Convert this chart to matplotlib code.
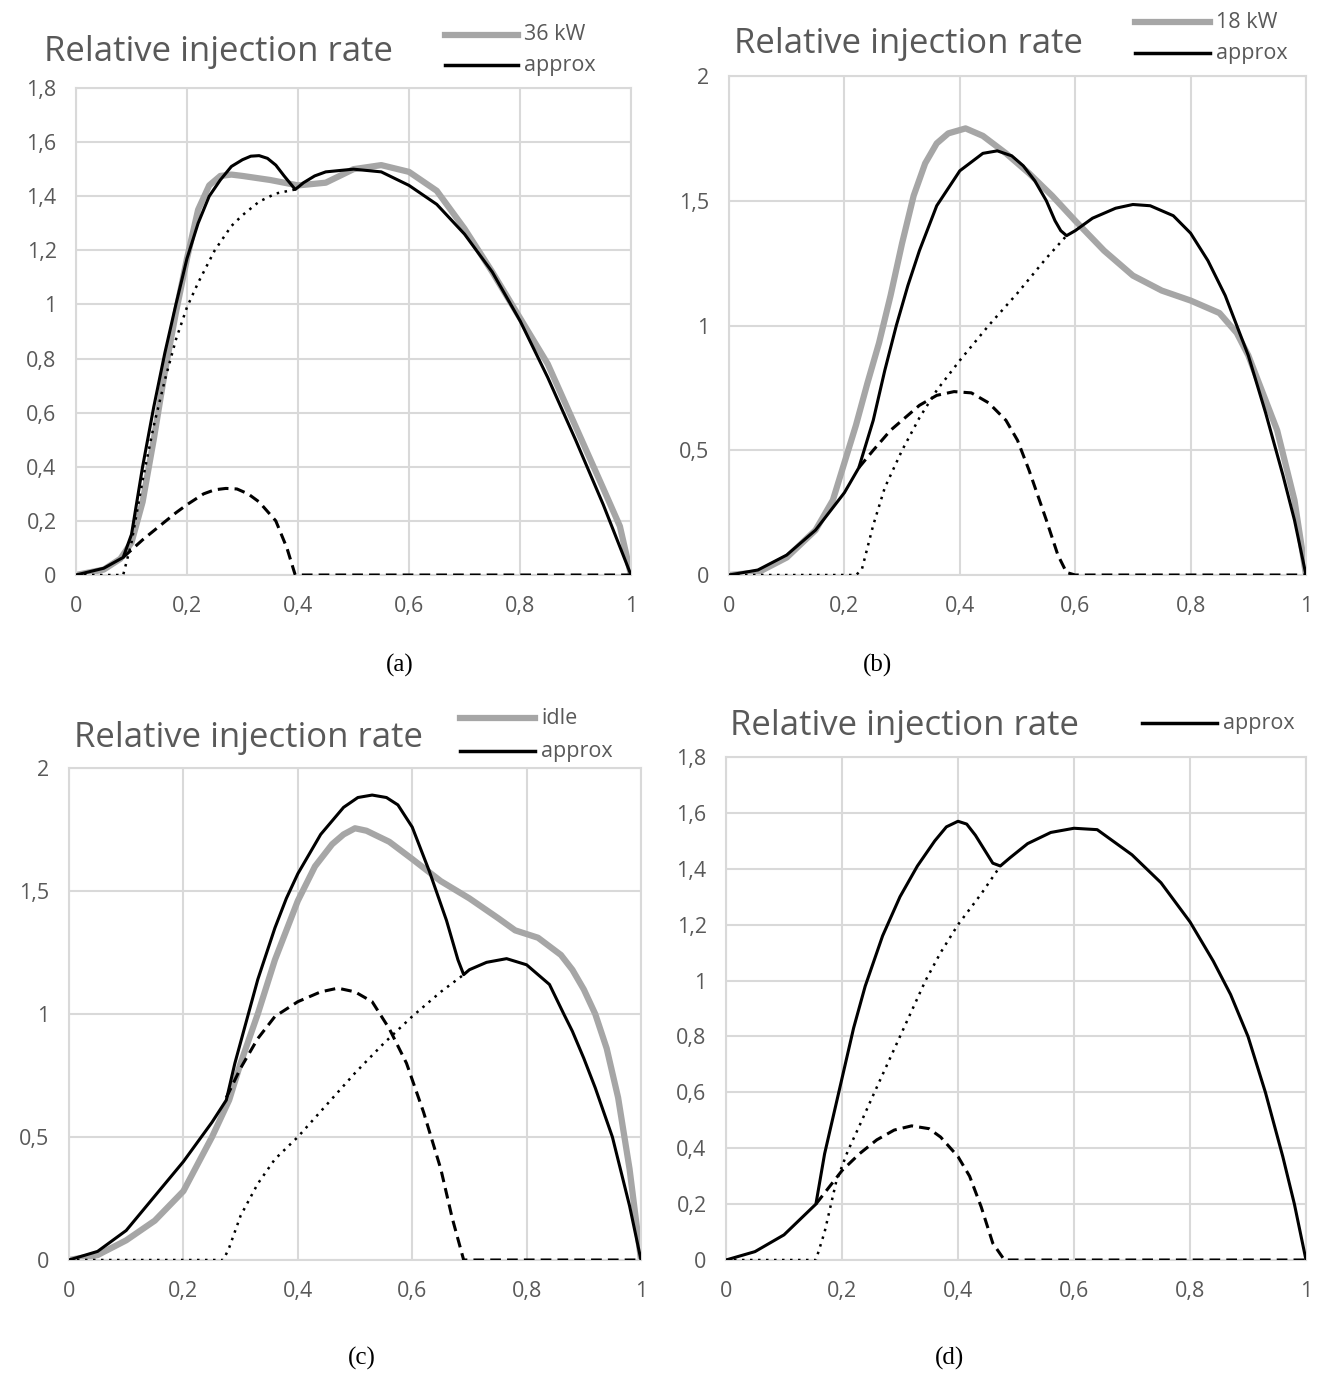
import matplotlib.pyplot as plt
from matplotlib.lines import Line2D

plt.rcParams['font.family'] = ['Open Sans', 'DejaVu Sans']

W, H = 1326, 1383
GRAY_TXT = '#595959'
GRID = '#d9d9d9'
MEAS = '#a6a6a6'

# tick labels
x_ticks = [0, 0.2, 0.4, 0.6, 0.8, 1.0]
x_labels = ['0', '0,2', '0,4', '0,6', '0,8', '1']
y_ticks_18 = [0, 0.2, 0.4, 0.6, 0.8, 1.0, 1.2, 1.4, 1.6, 1.8]
y_labels_18 = ['0', '0,2', '0,4', '0,6', '0,8', '1', '1,2', '1,4', '1,6', '1,8']
y_ticks_2 = [0, 0.5, 1.0, 1.5, 2.0]
y_labels_2 = ['0', '0,5', '1', '1,5', '2']

# (a) 36 kW
a_meas_x = [0, 0.05, 0.08, 0.1, 0.12, 0.14, 0.16, 0.18, 0.2, 0.22, 0.24, 0.26, 0.28, 0.3, 0.35, 0.4,
            0.45, 0.5, 0.55, 0.6, 0.65, 0.7, 0.75, 0.8, 0.85, 0.9, 0.95, 0.98, 1.0]
a_meas_y = [0, 0.02, 0.06, 0.12, 0.27, 0.5, 0.75, 0.97, 1.17, 1.35, 1.44, 1.475, 1.48, 1.475, 1.46, 1.44,
            1.45, 1.5, 1.515, 1.49, 1.42, 1.28, 1.12, 0.95, 0.78, 0.55, 0.32, 0.18, 0]
a_appr_x = [0, 0.05, 0.085, 0.1, 0.12, 0.14, 0.16, 0.18, 0.2, 0.22, 0.24, 0.26, 0.28, 0.3, 0.315, 0.33,
            0.345, 0.36, 0.375, 0.395, 0.41, 0.43, 0.45, 0.5, 0.55, 0.6, 0.65, 0.7, 0.75, 0.8, 0.85,
            0.9, 0.95, 1.0]
a_appr_y = [0, 0.025, 0.065, 0.15, 0.4, 0.62, 0.82, 1.0, 1.17, 1.3, 1.4, 1.46, 1.51, 1.535, 1.548, 1.55,
            1.54, 1.515, 1.475, 1.425, 1.45, 1.475, 1.49, 1.5, 1.49, 1.44, 1.37, 1.26, 1.12, 0.94, 0.73,
            0.5, 0.26, 0]
a_main_x = [0, 0.085, 0.1, 0.12, 0.14, 0.16, 0.18, 0.2, 0.22, 0.25, 0.28, 0.3, 0.33, 0.36, 0.395]
a_main_y = [0, 0, 0.12, 0.35, 0.55, 0.72, 0.87, 0.99, 1.08, 1.2, 1.29, 1.33, 1.38, 1.41, 1.425]
a_pilot_x = [0.085, 0.12, 0.15, 0.18, 0.2, 0.23, 0.25, 0.27, 0.29, 0.31, 0.33, 0.36, 0.38, 0.395, 1.0]
a_pilot_y = [0.065, 0.13, 0.18, 0.23, 0.26, 0.3, 0.315, 0.32, 0.318, 0.3, 0.27, 0.2, 0.1, 0.0, 0.0]

# (b) 18 kW
b_meas_x = [0, 0.05, 0.1, 0.15, 0.18, 0.2, 0.22, 0.24, 0.26, 0.28, 0.3, 0.32, 0.34, 0.36, 0.38, 0.41,
            0.44, 0.48, 0.52, 0.56, 0.6, 0.65, 0.7, 0.75, 0.8, 0.85, 0.88, 0.9, 0.93, 0.95, 0.98, 1.0]
b_meas_y = [0, 0.01, 0.07, 0.18, 0.3, 0.45, 0.6, 0.77, 0.93, 1.12, 1.33, 1.52, 1.65, 1.73, 1.77, 1.79,
            1.76, 1.69, 1.61, 1.52, 1.42, 1.3, 1.2, 1.14, 1.1, 1.05, 0.97, 0.88, 0.7, 0.58, 0.3, 0]
b_appr_x = [0, 0.05, 0.1, 0.15, 0.2, 0.225, 0.25, 0.27, 0.29, 0.31, 0.33, 0.36, 0.4, 0.44, 0.465,
            0.49, 0.51, 0.53, 0.55, 0.565, 0.575, 0.585, 0.6, 0.63, 0.67, 0.7, 0.73, 0.77, 0.8, 0.83,
            0.86, 0.9, 0.93, 0.96, 0.98, 1.0]
b_appr_y = [0, 0.02, 0.08, 0.18, 0.33, 0.43, 0.62, 0.82, 1.0, 1.16, 1.3, 1.48, 1.62, 1.69, 1.7,
            1.68, 1.64, 1.58, 1.5, 1.42, 1.38, 1.36, 1.38, 1.43, 1.47, 1.485, 1.48, 1.44, 1.37, 1.26,
            1.12, 0.88, 0.65, 0.4, 0.22, 0]
b_main_x = [0, 0.22, 0.23, 0.25, 0.27, 0.3, 0.33, 0.36, 0.4, 0.45, 0.5, 0.55, 0.585]
b_main_y = [0, 0, 0.02, 0.2, 0.35, 0.5, 0.63, 0.74, 0.86, 1.0, 1.13, 1.27, 1.36]
b_pilot_x = [0.225, 0.25, 0.28, 0.3, 0.33, 0.36, 0.39, 0.42, 0.45, 0.48, 0.5, 0.52, 0.55, 0.57, 0.585, 0.6, 1.0]
b_pilot_y = [0.43, 0.5, 0.58, 0.62, 0.68, 0.72, 0.735, 0.73, 0.69, 0.62, 0.54, 0.42, 0.22, 0.08, 0.01, 0.0, 0.0]

# (c) idle
c_meas_x = [0, 0.05, 0.1, 0.15, 0.2, 0.25, 0.28, 0.3, 0.33, 0.36, 0.4, 0.43, 0.46, 0.48, 0.5, 0.52, 0.56,
            0.6, 0.65, 0.7, 0.75, 0.78, 0.82, 0.86, 0.88, 0.9, 0.92, 0.94, 0.96, 0.98, 1.0]
c_meas_y = [0, 0.02, 0.08, 0.16, 0.28, 0.5, 0.65, 0.8, 1.0, 1.22, 1.46, 1.6, 1.69, 1.73, 1.755, 1.745, 1.7,
            1.63, 1.54, 1.47, 1.39, 1.34, 1.31, 1.24, 1.18, 1.1, 1.0, 0.86, 0.66, 0.37, 0]
c_appr_x = [0, 0.05, 0.1, 0.15, 0.2, 0.225, 0.25, 0.275, 0.29, 0.31, 0.33, 0.36, 0.38, 0.4, 0.44,
            0.48, 0.505, 0.53, 0.555, 0.575, 0.6, 0.63, 0.66, 0.68, 0.69, 0.7, 0.73, 0.765, 0.8, 0.84,
            0.865, 0.88, 0.9, 0.92, 0.95, 0.98, 1.0]
c_appr_y = [0, 0.035, 0.12, 0.26, 0.4, 0.48, 0.56, 0.65, 0.8, 0.97, 1.14, 1.35, 1.47, 1.57, 1.73,
            1.84, 1.88, 1.89, 1.88, 1.85, 1.76, 1.58, 1.38, 1.22, 1.16, 1.18, 1.21, 1.225, 1.2, 1.12,
            1.0, 0.93, 0.82, 0.7, 0.5, 0.22, 0]
c_main_x = [0, 0.27, 0.28, 0.3, 0.33, 0.36, 0.4, 0.45, 0.5, 0.55, 0.6, 0.65, 0.69]
c_main_y = [0, 0, 0.05, 0.18, 0.31, 0.41, 0.5, 0.63, 0.76, 0.88, 0.99, 1.09, 1.16]
c_pilot_x = [0.275, 0.3, 0.33, 0.36, 0.4, 0.44, 0.47, 0.5, 0.53, 0.56, 0.59, 0.62, 0.65, 0.67, 0.69, 1.0]
c_pilot_y = [0.66, 0.78, 0.9, 0.99, 1.05, 1.09, 1.105, 1.09, 1.05, 0.94, 0.8, 0.6, 0.37, 0.17, 0.0, 0.0]

# (d) approx only
d_appr_x = [0, 0.05, 0.1, 0.155, 0.17, 0.2, 0.22, 0.24, 0.27, 0.3, 0.33, 0.36, 0.38, 0.4, 0.415,
            0.43, 0.445, 0.46, 0.473, 0.49, 0.52, 0.56, 0.6, 0.64, 0.7, 0.75, 0.8, 0.84, 0.87, 0.9,
            0.93, 0.96, 0.98, 1.0]
d_appr_y = [0, 0.03, 0.09, 0.2, 0.38, 0.65, 0.83, 0.98, 1.16, 1.3, 1.41, 1.5, 1.55, 1.57, 1.56,
            1.52, 1.47, 1.42, 1.41, 1.44, 1.49, 1.53, 1.545, 1.54, 1.45, 1.35, 1.21, 1.07, 0.95, 0.8,
            0.6, 0.37, 0.2, 0]
d_main_x = [0, 0.155, 0.17, 0.19, 0.21, 0.23, 0.256, 0.3, 0.344, 0.37, 0.4, 0.44, 0.473]
d_main_y = [0, 0, 0.1, 0.28, 0.39, 0.48, 0.6, 0.8, 1.0, 1.1, 1.2, 1.31, 1.41]
d_pilot_x = [0.155, 0.17, 0.2, 0.23, 0.26, 0.29, 0.32, 0.35, 0.37, 0.4, 0.42, 0.44, 0.46, 0.48, 1.0]
d_pilot_y = [0.2, 0.24, 0.32, 0.38, 0.43, 0.465, 0.48, 0.47, 0.44, 0.37, 0.3, 0.19, 0.06, 0.0, 0.0]


def fx(px):
    return px / W


def fy(py):
    return 1 - py / H


fig = plt.figure(figsize=(W / 100, H / 100), dpi=100)


def panel(box, yticks, ylabels, ymax, meas, appr, main, pilot, title_xy, leg, cap):
    l, r, t, b = box
    ax = fig.add_axes([fx(l), fy(b), fx(r) - fx(l), fy(t) - fy(b)])
    ax.set_xlim(0, 1)
    ax.set_ylim(0, ymax)
    ax.set_xticks(x_ticks)
    ax.set_xticklabels(x_labels)
    ax.set_yticks(yticks)
    ax.set_yticklabels(ylabels)
    ax.tick_params(length=0, labelsize=15.5, colors=GRAY_TXT)
    ax.tick_params(axis='y', pad=14)
    ax.tick_params(axis='x', pad=15)
    ax.grid(True, color=GRID, lw=1.5)
    for s in ax.spines.values():
        s.set_color(GRID)
        s.set_linewidth(1.5)
    ax.set_axisbelow(True)
    if meas is not None:
        ax.plot(meas[0], meas[1], color=MEAS, lw=4.5, solid_capstyle='round', zorder=2)
    ax.plot(main[0], main[1], color='black', lw=1.8, linestyle=(0, (1, 2.2)), zorder=3)
    ax.plot(pilot[0], pilot[1], color='black', lw=2.2, linestyle=(0, (3.5, 2)), zorder=3)
    ax.plot(appr[0], appr[1], color='black', lw=2.2, zorder=4)

    fig.text(fx(title_xy[0]), fy(title_xy[1]), 'Relative injection rate', fontsize=25,
             color=GRAY_TXT, va='center', ha='left')
    lx0, lx1 = leg[0], leg[1]
    for (label, py, col, lw) in leg[2]:
        fig.add_artist(Line2D([fx(lx0), fx(lx1)], [fy(py), fy(py)], color=col, lw=lw,
                              transform=fig.transFigure))
        fig.text(fx(lx1 + 6), fy(py), label, fontsize=15.5, color=GRAY_TXT, va='center', ha='left')
    fig.text(fx(cap[0]), fy(cap[1]), cap[2], fontsize=18, family='Liberation Serif',
             ha='center', va='center')
    return ax


panel((76, 631, 88, 575), y_ticks_18, y_labels_18, 1.8,
      (a_meas_x, a_meas_y), (a_appr_x, a_appr_y), (a_main_x, a_main_y), (a_pilot_x, a_pilot_y),
      (44, 52), (445, 518, [('36 kW', 35, MEAS, 4.5), ('approx', 65, 'black', 2.5)]),
      (400, 665, '(a)'))
panel((729, 1306, 76, 575), y_ticks_2, y_labels_2, 2.0,
      (b_meas_x, b_meas_y), (b_appr_x, b_appr_y), (b_main_x, b_main_y), (b_pilot_x, b_pilot_y),
      (734, 44), (1135, 1210, [('18 kW', 22, MEAS, 4.5), ('approx', 53, 'black', 2.5)]),
      (877, 665, '(b)'))
panel((69, 641, 768, 1260), y_ticks_2, y_labels_2, 2.0,
      (c_meas_x, c_meas_y), (c_appr_x, c_appr_y), (c_main_x, c_main_y), (c_pilot_x, c_pilot_y),
      (74, 738), (460, 535, [('idle', 718, MEAS, 4.5), ('approx', 751, 'black', 2.5)]),
      (362, 1358, '(c)'))
panel((726, 1306, 757, 1260), y_ticks_18, y_labels_18, 1.8,
      None, (d_appr_x, d_appr_y), (d_main_x, d_main_y), (d_pilot_x, d_pilot_y),
      (730, 726), (1142, 1217, [('approx', 723, 'black', 2.5)]),
      (950, 1358, '(d)'))

fig.savefig('out.png', dpi=100, facecolor='white')
